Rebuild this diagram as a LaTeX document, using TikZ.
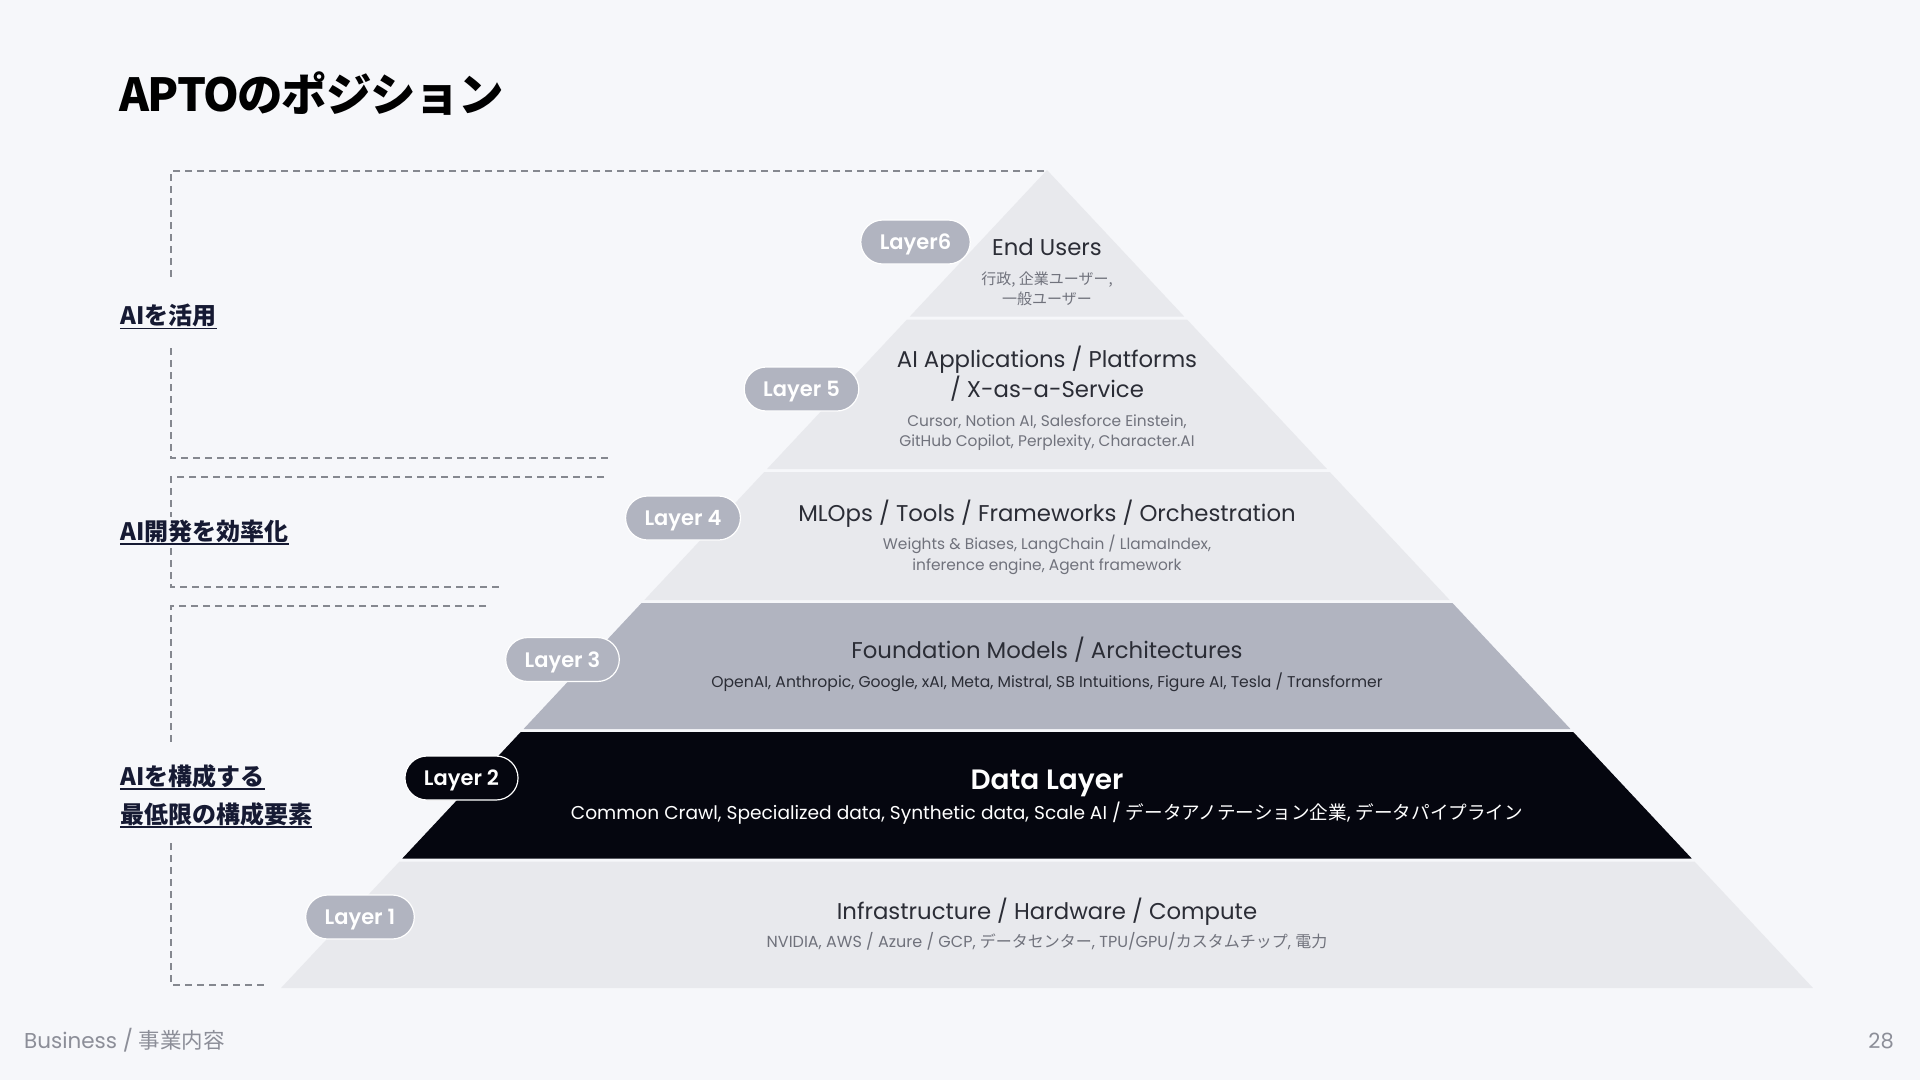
\documentclass[tikz,border=0pt]{standalone}
\usepackage{fontspec}
\setmainfont{Poppins}
\IfFontExistsTF{Poppins SemiBold}
  {\newfontfamily\popsemi{Poppins SemiBold}}
  {\newcommand\popsemi{\bfseries}}
\newfontfamily\jp{Noto Sans CJK JP}
\newfontfamily\jptitle{Noto Sans CJK JP}[LetterSpace=-3]
\usetikzlibrary{positioning}
\definecolor{pageBg}{HTML}{F6F7FA}
\definecolor{bandLight}{HTML}{E8E9ED}
\definecolor{bandMid}{HTML}{B1B4C0}
\definecolor{bandDark}{HTML}{05060F}
\definecolor{headColor}{HTML}{2B2D36}
\definecolor{subColor}{HTML}{70727C}
\definecolor{navy}{HTML}{161A33}
\definecolor{dashColor}{HTML}{85888F}
\definecolor{footColor}{HTML}{8C8E98}
\colorlet{pillGray}{bandMid}
\tikzset{
  pill/.style={rounded corners=22pt, minimum height=44pt, inner xsep=19pt, inner ysep=0pt,
    text height=15pt, text depth=0pt, fill=pillGray, draw=white, line width=1.2pt,
    text=white, font=\popsemi\fontsize{21}{24}\selectfont},
  head/.style={anchor=base, inner sep=0pt, text=headColor, font=\fontsize{22.8}{28}\selectfont},
  sub/.style={anchor=base, inner sep=0pt, text=subColor, font=\fontsize{15.4}{19}\selectfont},
  jpsub/.style={sub, font=\jp\fontsize{15}{18}\selectfont},
  side/.style={anchor=base west, inner sep=0pt, text=navy, font=\jp\bfseries\fontsize{24}{28}\selectfont},
  uline/.style={navy, line width=1.6pt},
  bracket/.style={dashColor, line width=1.4pt, dash pattern=on 7pt off 5pt},
}

\begin{document}
\begin{tikzpicture}[x=1pt,y=-1pt]
    \useasboundingbox (0,0) rectangle (1920,1080);
    \fill[pageBg] (0,0) rectangle (1920,1080);

    \node[anchor=base west, inner sep=0pt, font=\jptitle\bfseries\fontsize{45.5}{50}\selectfont] (title) at (119,111) {APTOのポジション};

    % pyramid bands, top/bottom/colour
    \foreach \t/\b/\c in {170/316.5/bandLight, 319.5/469/bandLight, 472/600/bandLight,
                          603/729/bandMid, 732/858.5/bandDark, 861.5/988/bandLight}
      \fill[\c] ({1047-(\t-170)*0.9364},\t) -- ({1047+(\t-170)*0.9364},\t)
        -- ({1047+(\b-170)*0.9364},\b) -- ({1047-(\b-170)*0.9364},\b) -- cycle;

    % brackets
    \draw[bracket] (1044,171) -- (171,171) -- (171,281);
    \draw[bracket] (171,348) -- (171,458) -- (612,458);% bottom
    \draw[bracket] (604,477) -- (171,477) -- (171,517);
    \draw[bracket] (171,548) -- (171,587) -- (499,587);% bottom
    \draw[bracket] (486,606) -- (171,606) -- (171,746);
    \draw[bracket] (171,843) -- (171,985) -- (266,985);% bottom

    \node[side] (use) at (120,324.5) {AIを活用};
    \node[side] (dev) at (120,540) {AI開発を効率化};
    \node[side] (core) at (120,785) {AIを構成する};
    \node[side] (coremin) at (120,823) {最低限の構成要素};
    \foreach \n in {use,dev,core,coremin}
      \draw[uline] ([yshift=-4pt]\n.base west) -- ([yshift=-4pt]\n.base east);

    % layer texts
    \node[head] (t6) at (1047,255) {End Users};
    \node[jpsub] (s6a) at (1047,284) {行政, 企業ユーザー,};
    \node[jpsub] (s6b) at (1047,304) {一般ユーザー};
    \node[head] (t5a) at (1047,367) {AI Applications / Platforms};
    \node[head] (t5b) at (1047,397) {/ X-as-a-Service};
    \node[sub] (s5a) at (1047,426) {Cursor, Notion AI, Salesforce Einstein,};
    \node[sub] (s5b) at (1047,446) {GitHub Copilot, Perplexity, Character.AI};
    \node[head] (t4) at (1047,521) {MLOps / Tools / Frameworks / Orchestration};
    \node[sub] (s4a) at (1047,549) {Weights \& Biases, LangChain / LlamaIndex,};
    \node[sub] (s4b) at (1047,570) {inference engine, Agent framework};
    \node[head] (t3) at (1047,658) {Foundation Models / Architectures};
    \node[sub, text=headColor, font=\fontsize{15.6}{19}\selectfont] (s3) at (1047,687) {OpenAI, Anthropic, Google, xAI, Meta, Mistral, SB Intuitions, Figure AI, Tesla / Transformer};
    \node[head, text=white, font=\popsemi\fontsize{28}{32}\selectfont] (t2) at (1047,789) {Data Layer};
    \node[sub, text=white, font=\fontsize{18.6}{22}\selectfont] (s2) at (1047,819)
      {Common Crawl, Specialized data, Synthetic data, Scale AI / {\jp データアノテーション企業}, {\jp データパイプライン}};
    \node[head] (t1) at (1047,919) {Infrastructure / Hardware / Compute};
    \node[sub, font=\fontsize{16}{19}\selectfont] (s1) at (1047,947)
      {NVIDIA, AWS / Azure / GCP, {\jp データセンター}, TPU/GPU/{\jp カスタムチップ}, {\jp 電力}};

    % layer pills
    \node[pill] (p6) at (915.5,242) {Layer6};
    \node[pill] (p5) at (801.5,389) {Layer 5};
    \node[pill] (p4) at (683,518) {Layer 4};
    \node[pill] (p3) at (562.5,659.5) {Layer 3};
    \node[pill, fill=bandDark] (p2) at (461.5,778) {Layer 2};
    \node[pill] (p1) at (360,917) {Layer 1};

    % footer
    \node[anchor=base west, inner sep=0pt, text=footColor, font=\fontsize{21.5}{25}\selectfont] (foot) at (24,1048) {Business / {\jp 事業内容}};
    \node[anchor=base east, inner sep=0pt, text=footColor, font=\fontsize{21}{25}\selectfont] (page) at (1894,1048) {28};
\end{tikzpicture}
\end{document}
